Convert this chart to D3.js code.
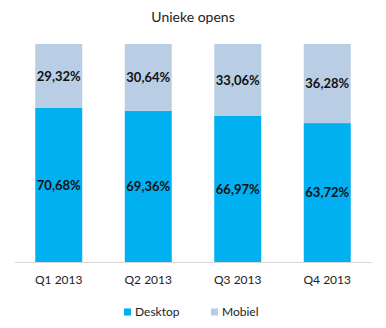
<!DOCTYPE html>
<html>
<head>
<meta charset="utf-8">
<script src="https://cdn.jsdelivr.net/npm/d3@7"></script>
<style>
  html, body { margin: 0; padding: 0; background: #fff; }
  svg { display: block; font-family: Lato, "Open Sans", sans-serif; }
</style>
</head>
<body>
<svg id="chart" width="386" height="328"></svg>
<script>
// Quarterly share of unique opens per device type (percent)
const quarters = ["Q1 2013", "Q2 2013", "Q3 2013", "Q4 2013"];
const desktop = [70.68, 69.36, 66.97, 63.72];
const mobiel = [29.32, 30.64, 33.06, 36.28];
const seriesNames = ["Desktop", "Mobiel"];
const seriesColors = ["#00B0F0", "#B9CDE5"];

const svg = d3.select("#chart");
const W = 386, H = 328;
const margin = { top: 44, right: 14, bottom: 66, left: 14 };

const x = d3.scaleBand()
  .domain(quarters)
  .range([margin.left, W - margin.right])
  .paddingInner(0.475)
  .paddingOuter(0.2375);

const y = d3.scaleLinear()
  .domain([0, 100])
  .range([H - margin.bottom, margin.top]);

const rows = quarters.map((q, i) => ({ q, Desktop: desktop[i], Mobiel: mobiel[i] }));
const stacked = d3.stack().keys(seriesNames)(rows);
const fmt = v => v.toFixed(2).replace(".", ",") + "%";

// Title
svg.append("text")
  .attr("x", W / 2)
  .attr("y", 22)
  .attr("text-anchor", "middle")
  .attr("font-size", 14)
  .attr("fill", "#222")
  .text("Unieke opens");

// Stacked segments
const layers = svg.selectAll("g.layer")
  .data(stacked)
  .join("g")
  .attr("class", "layer")
  .attr("fill", (d, i) => seriesColors[i]);

layers.selectAll("rect")
  .data(d => d)
  .join("rect")
  .attr("x", d => x(d.data.q))
  .attr("width", x.bandwidth())
  .attr("y", d => y(Math.min(d[1], 100)))
  .attr("height", d => y(d[0]) - y(Math.min(d[1], 100)));

// Value labels centred in each segment
layers.selectAll("text")
  .data((d) => d.map(s => ({ s, key: d.key })))
  .join("text")
  .attr("x", d => x(d.s.data.q) + x.bandwidth() / 2)
  .attr("y", d => (y(d.s[0]) + y(Math.min(d.s[1], 100))) / 2)
  .attr("dy", "0.35em")
  .attr("text-anchor", "middle")
  .attr("font-size", 13)
  .attr("font-weight", "bold")
  .attr("fill", "#111")
  .text(d => fmt(d.s.data[d.key]));

// Category axis
const xAxis = svg.append("g")
  .attr("transform", `translate(0,${y(0)})`)
  .call(d3.axisBottom(x).tickSize(0).tickPadding(13));
xAxis.select(".domain").attr("stroke", "#D9D9D9");
xAxis.selectAll("text")
  .attr("font-size", 12)
  .attr("font-family", "Lato, 'Open Sans', sans-serif")
  .attr("fill", "#222");

// Legend
const legendX = [124, 211];
const legend = svg.selectAll("g.legend")
  .data(seriesNames)
  .join("g")
  .attr("class", "legend")
  .attr("transform", (d, i) => `translate(${legendX[i]},312)`);
legend.append("rect")
  .attr("x", 0).attr("y", -3.5)
  .attr("width", 7).attr("height", 7)
  .attr("fill", (d, i) => seriesColors[i]);
legend.append("text")
  .attr("x", 11)
  .attr("dy", "0.35em")
  .attr("font-size", 12)
  .attr("fill", "#222")
  .text(d => d);
</script>
</body>
</html>
